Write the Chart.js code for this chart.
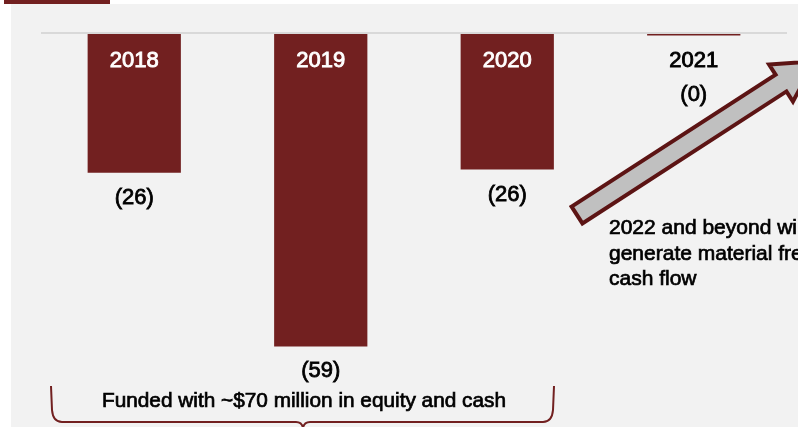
<!DOCTYPE html>
<html>
<head>
<meta charset="utf-8">
<script src="https://cdn.jsdelivr.net/npm/chart.js@4.4.0/dist/chart.umd.min.js"></script>
<style>
    html, body { margin: 0; padding: 0; background: #ffffff; }
    #wrap { width: 798px; height: 427px; position: relative; }
</style>
</head>
<body>
<div id="wrap"><canvas id="fcfChart"></canvas></div>
<script>
// Free cash flow by year ($ millions, negative = burn)
const years = ['2018', '2019', '2020', '2021'];
const freeCashFlow = [-26.2, -59, -25.6, -0.3];

const outlookLines = ['2022 and beyond will', 'generate material free', 'cash flow'];
const fundingNote = 'Funded with ~$70 million in equity and cash';

const BAR_RED = '#722020';
const ARROW_RED = '#5c1414';
const FONT = '"Liberation Sans", Arial, sans-serif';

// Draw text slightly heavier than the regular weight
function drawText(ctx, text, x, y, color, size, align, weight) {
    ctx.save();
    ctx.font = size + 'px ' + FONT;
    ctx.fillStyle = color;
    ctx.strokeStyle = color;
    ctx.lineWidth = weight || 0.7;
    ctx.textAlign = align || 'center';
    ctx.textBaseline = 'alphabetic';
    ctx.fillText(text, x, y);
    ctx.strokeText(text, x, y);
    ctx.restore();
}

// Slanted block arrow pointing up to the right
function drawArrow(ctx, x0, y0, angleDeg, len, shaftHalf, headHalf, headLen) {
    const a = angleDeg * Math.PI / 180;
    const pts = [
        [0, -shaftHalf], [len, -shaftHalf], [len, -headHalf], [len + headLen, 0],
        [len, headHalf], [len, shaftHalf], [0, shaftHalf]
    ];
    ctx.save();
    ctx.translate(x0, y0);
    ctx.rotate(a);
    ctx.beginPath();
    pts.forEach((p, i) => i === 0 ? ctx.moveTo(p[0], p[1]) : ctx.lineTo(p[0], p[1]));
    ctx.closePath();
    ctx.fillStyle = '#c0c0c0';
    ctx.fill();
    ctx.lineJoin = 'miter';
    ctx.lineWidth = 4;
    ctx.strokeStyle = ARROW_RED;
    ctx.stroke();
    ctx.restore();
}

// Curly bracket under 2018-2020
function drawBrace(ctx) {
    ctx.save();
    ctx.strokeStyle = BAR_RED;
    ctx.lineWidth = 2;
    ctx.beginPath();
    ctx.moveTo(51, 386);
    ctx.lineTo(52, 410);
    ctx.quadraticCurveTo(53, 422, 62, 422);
    ctx.lineTo(296, 422);
    ctx.quadraticCurveTo(302, 422, 303, 428);
    ctx.moveTo(303, 428);
    ctx.quadraticCurveTo(304, 422, 310, 422);
    ctx.lineTo(543, 422);
    ctx.quadraticCurveTo(552, 422, 553, 410);
    ctx.lineTo(554, 386);
    ctx.stroke();
    ctx.restore();
}

const pagePlugin = {
    id: 'pageDecor',
    beforeDraw(chart) {
        const ctx = chart.ctx;
        ctx.save();
        ctx.fillStyle = '#ffffff';
        ctx.fillRect(0, 0, chart.width, chart.height);
        ctx.fillStyle = '#f2f2f2';
        ctx.fillRect(11, 4, chart.width - 11, chart.height - 4);
        ctx.fillStyle = BAR_RED;
        ctx.fillRect(4, 0, 106, 4);
        ctx.restore();
    },
    beforeDatasetsDraw(chart) {
        const ctx = chart.ctx;
        const area = chart.chartArea;
        const y0 = chart.scales.y.getPixelForValue(0);
        ctx.save();
        ctx.strokeStyle = '#d9d9d9';
        ctx.lineWidth = 2;
        ctx.beginPath();
        ctx.moveTo(area.left, y0 - 1);
        ctx.lineTo(area.right, y0 - 1);
        ctx.stroke();
        ctx.restore();
    },
    afterDraw(chart) {
        const ctx = chart.ctx;
        const meta = chart.getDatasetMeta(0);
        meta.data.forEach((bar, i) => {
            const tall = Math.abs(bar.y - bar.base) > 40;
            const yearColor = tall ? '#ffffff' : '#000000';
            drawText(ctx, years[i], bar.x, bar.base + 33, yearColor, 22, 'center', 0.9);
            const label = '(' + Math.abs(Math.round(freeCashFlow[i])) + ')';
            const labelY = tall ? bar.y + 31 : bar.base + 67;
            drawText(ctx, label, bar.x, labelY, '#000000', 22, 'center', 0.8);
        });

        drawArrow(ctx, 577, 215, -32.9, 243, 10, 22, 40);

        outlookLines.forEach((line, i) => {
            drawText(ctx, line, 609, 234 + i * 25.5, '#000000', 21, 'left');
        });

        drawText(ctx, fundingNote, 304, 407, '#000000', 20.8);
        drawBrace(ctx);
    }
};

new Chart(document.getElementById('fcfChart'), {
    type: 'bar',
    data: {
        labels: years,
        datasets: [{
            data: freeCashFlow,
            backgroundColor: BAR_RED,
            borderWidth: 0,
            categoryPercentage: 1,
            barPercentage: 0.5
        }]
    },
    options: {
        responsive: true,
        maintainAspectRatio: false,
        animation: false,
        layout: { padding: { left: 41, right: 11, top: 34, bottom: 0 } },
        plugins: {
            legend: { display: false },
            tooltip: { enabled: false }
        },
        scales: {
            x: { display: false },
            y: { display: false, min: -74.2, max: 0 }
        }
    },
    plugins: [pagePlugin]
});
</script>
</body>
</html>
